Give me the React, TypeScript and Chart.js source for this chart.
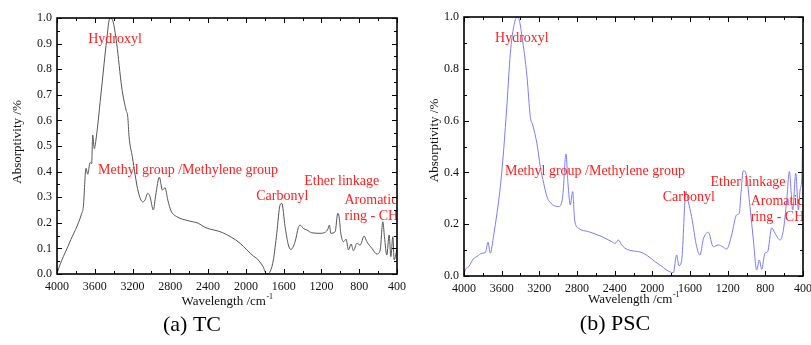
import { useEffect, useRef } from "react";
import { Chart, registerables } from "chart.js";

Chart.register(...registerables);

// FTIR spectrum of TC (wavenumber in cm^-1, absorptivity normalised to 1)
const tcWavenumber = [
  4000, 3993, 3870, 3738, 3721, 3693, 3675, 3650, 3633, 3622, 3605, 3590, 3527, 3474, 3440,
  3410, 3368, 3315, 3269, 3251, 3237, 3202, 3174, 3139, 3092, 3068, 3040, 3015, 2980, 2955,
  2916, 2884, 2856, 2827, 2792, 2732, 2609, 2503, 2432, 2250, 2061, 1990, 1920, 1885, 1820,
  1779, 1740, 1709, 1673, 1638, 1620, 1585, 1550, 1524, 1479, 1444, 1426, 1391, 1355, 1302,
  1214, 1136, 1115, 1101, 1055, 1027, 1013, 995, 967, 939, 914, 886, 861, 825, 790, 748, 719,
  666, 613, 578, 550, 533, 508, 483, 465, 444, 430, 402,
];
const tcAbsorptivity = [
  0.0, 0.01, 0.12, 0.237, 0.263, 0.413, 0.39, 0.435, 0.432, 0.543, 0.49, 0.517, 0.73, 0.914, 1.0,
  0.99, 0.9, 0.73, 0.64, 0.615, 0.536, 0.458, 0.39, 0.32, 0.282, 0.289, 0.315, 0.302, 0.25, 0.308,
  0.378, 0.328, 0.337, 0.289, 0.246, 0.224, 0.208, 0.198, 0.182, 0.162, 0.12, 0.094, 0.07, 0.061, 0.03,
  0.0, 0.012, 0.055, 0.159, 0.27, 0.276, 0.185, 0.113, 0.096, 0.126, 0.182, 0.191, 0.178, 0.172, 0.161,
  0.159, 0.172, 0.191, 0.159, 0.165, 0.237, 0.224, 0.159, 0.126, 0.136, 0.094, 0.117, 0.091, 0.12, 0.113, 0.148, 0.126,
  0.1, 0.078, 0.094, 0.204, 0.146, 0.074, 0.152, 0.068, 0.146, 0.055, 0.094,
];

// FTIR spectrum of PSC
const pscWavenumber = [
  4000, 3993, 3950, 3897, 3862, 3809, 3774, 3745, 3721, 3685, 3650, 3614, 3579, 3543, 3508,
  3472, 3435, 3413, 3384, 3331, 3296, 3270, 3225, 3190, 3154, 3119, 3083, 2995, 2952, 2917,
  2896, 2871, 2846, 2825, 2782, 2676, 2535, 2429, 2396, 2361, 2326, 2290, 2096, 1919, 1777,
  1742, 1717, 1688, 1643, 1618, 1583, 1529, 1494, 1459, 1406, 1353, 1300, 1253, 1211, 1158,
  1105, 1077, 1059, 1034, 998, 963, 927, 892, 864, 839, 804, 775, 733, 697, 644, 608, 573,
  545, 509, 477, 449, 431, 413, 400,
];
const pscAbsorptivity = [
  0.0, 0.017, 0.036, 0.068, 0.075, 0.088, 0.09, 0.13, 0.088, 0.158, 0.242, 0.345, 0.486, 0.667, 0.86,
  0.963, 1.0, 0.988, 0.925, 0.77, 0.615, 0.583, 0.51, 0.422, 0.358, 0.306, 0.283, 0.268, 0.306, 0.471,
  0.358, 0.274, 0.326, 0.216, 0.184, 0.171, 0.152, 0.132, 0.126, 0.139, 0.12, 0.107, 0.088, 0.042, 0.013,
  0.081, 0.04, 0.062, 0.326, 0.287, 0.229, 0.113, 0.081, 0.142, 0.169, 0.113, 0.12, 0.113, 0.104, 0.158,
  0.236, 0.242, 0.319, 0.407, 0.383, 0.268, 0.139, 0.023, 0.062, 0.026, 0.088, 0.094, 0.186, 0.165, 0.139, 0.178, 0.293,
  0.403, 0.255, 0.397, 0.255, 0.332, 0.377, 0.6,
];

// Wavenumber tick labels along the bottom axis
const xTickValues = [4000, 3600, 3200, 2800, 2400, 2000, 1600, 1200, 800, 400];

// Functional-group labels, anchored at (wavenumber, absorptivity)
const bandNames = ["Hydroxyl", "Methyl group /Methylene group", "Carbonyl", "Ether linkage", "Aromatic", "ring - CH"];
const bandWavenumber = [3670, 3565, 1890, 1382, 956, 956];
const bandAbsorptivity = [0.916, 0.405, 0.305, 0.361, 0.288, 0.225];

const SERIF = "'Liberation Serif', 'Times New Roman', Times, serif";

interface PanelSpec {
  wavenumber: number[];
  absorptivity: number[];
  color: string;
  yStep: number;
  caption: string;
  canvasLeft: number;
  canvasWidth: number;
  yAxisWidth: number;
  padTop: number;
  padRight: number;
  xAxisHeight: number;
  yTitleX: number;
  yTitleShift: number;
  xTitleY: number;
  captionX: number;
  captionY: number;
}

const HEIGHT = 345;

const panels: PanelSpec[] = [
  {
    wavenumber: tcWavenumber,
    absorptivity: tcAbsorptivity,
    color: "#555555",
    yStep: 0.1,
    caption: "(a) TC",
    canvasLeft: 0,
    canvasWidth: 420,
    yAxisWidth: 57,
    padTop: 18,
    padRight: 23,
    xAxisHeight: 71,
    yTitleX: 18,
    yTitleShift: -4,
    xTitleY: 302,
    captionX: 192,
    captionY: 325,
  },
  {
    wavenumber: pscWavenumber,
    absorptivity: pscAbsorptivity,
    color: "#7b7bff",
    yStep: 0.2,
    caption: "(b) PSC",
    canvasLeft: 400,
    canvasWidth: 425,
    yAxisWidth: 64,
    padTop: 17,
    padRight: 22,
    xAxisHeight: 69,
    yTitleX: 35,
    yTitleShift: -6,
    xTitleY: 300,
    captionX: 215,
    captionY: 324,
  },
];

function decorations(spec: PanelSpec) {
  return {
    id: "decorations",
    afterDraw(chart: any) {
      const { ctx, chartArea: a, scales } = chart;
      const xs = scales.x;
      const ys = scales.y;
      ctx.save();

      // functional-group labels, clipped to the plot frame
      ctx.save();
      ctx.beginPath();
      ctx.rect(a.left, a.top, a.right - a.left, a.bottom - a.top);
      ctx.clip();
      ctx.fillStyle = "#ff1f1f";
      ctx.font = `14px ${SERIF}`;
      ctx.textAlign = "left";
      ctx.textBaseline = "middle";
      bandNames.forEach((name, i) => {
        ctx.fillText(name, xs.getPixelForValue(bandWavenumber[i]), ys.getPixelForValue(bandAbsorptivity[i]));
      });
      ctx.restore();

      // inward tick marks on all four sides
      ctx.strokeStyle = "#000";
      ctx.lineWidth = 1;
      const seg = (x1: number, y1: number, x2: number, y2: number) => {
        ctx.beginPath();
        ctx.moveTo(x1, y1);
        ctx.lineTo(x2, y2);
        ctx.stroke();
      };
      for (let w = 400; w <= 4000; w += 200) {
        const px = Math.round(xs.getPixelForValue(w)) + 0.5;
        const len = w % 400 === 0 ? 5 : 3;
        seg(px, a.bottom, px, a.bottom - len);
        seg(px, a.top, px, a.top + len);
      }
      const minor = spec.yStep / 2;
      const n = Math.round(1 / minor);
      for (let k = 0; k <= n; k++) {
        const py = Math.round(ys.getPixelForValue(k * minor)) + 0.5;
        const len = k % 2 === 0 ? 5 : 3;
        seg(a.left, py, a.left + len, py);
        seg(a.right, py, a.right - len, py);
      }

      // plot frame
      ctx.lineWidth = 1.6;
      ctx.strokeRect(a.left, a.top, a.right - a.left, a.bottom - a.top);

      // axis titles
      ctx.fillStyle = "#111";
      ctx.font = `13px ${SERIF}`;
      ctx.textBaseline = "middle";
      ctx.textAlign = "center";
      ctx.save();
      ctx.translate(spec.yTitleX, (a.top + a.bottom) / 2 + spec.yTitleShift);
      ctx.rotate(-Math.PI / 2);
      ctx.fillText("Absorptivity /%", 0, 0);
      ctx.restore();

      const main = "Wavelength /cm";
      const sup = "-1";
      ctx.font = `13px ${SERIF}`;
      const mw = ctx.measureText(main).width;
      ctx.font = `8px ${SERIF}`;
      const sw = ctx.measureText(sup).width;
      const x0 = (a.left + a.right) / 2 - (mw + sw) / 2;
      ctx.textAlign = "left";
      ctx.font = `13px ${SERIF}`;
      ctx.fillText(main, x0, spec.xTitleY);
      ctx.font = `8px ${SERIF}`;
      ctx.fillText(sup, x0 + mw + 0.5, spec.xTitleY - 5);

      // panel caption
      ctx.font = `22px ${SERIF}`;
      ctx.textAlign = "center";
      ctx.fillStyle = "#000";
      ctx.fillText(spec.caption, spec.captionX, spec.captionY);

      ctx.restore();
    },
  };
}

function SpectrumPanel({ spec }: { spec: PanelSpec }) {
  const ref = useRef<HTMLCanvasElement | null>(null);

  useEffect(() => {
    if (!ref.current) return;
    const points = spec.wavenumber.map((w, i) => ({ x: w, y: spec.absorptivity[i] }));
    const tickFont = { family: SERIF, size: 12 };
    const chart = new Chart(ref.current, {
      type: "line",
      data: {
        datasets: [
          {
            data: points,
            borderColor: spec.color,
            borderWidth: 1,
            pointRadius: 0,
            fill: false,
            cubicInterpolationMode: "monotone",
          },
        ],
      },
      options: {
        responsive: false,
        animation: false,
        events: [],
        layout: { padding: { left: 0, top: spec.padTop, right: spec.padRight, bottom: 0 } },
        plugins: { legend: { display: false }, tooltip: { enabled: false }, title: { display: false } },
        scales: {
          x: {
            type: "linear",
            reverse: true,
            min: 400,
            max: 4000,
            grid: { display: false, drawTicks: false },
            border: { display: false },
            afterBuildTicks: (s: any) => {
              s.ticks = xTickValues.map((v) => ({ value: v }));
            },
            afterFit: (s: any) => {
              s.height = spec.xAxisHeight;
            },
            ticks: {
              autoSkip: false,
              maxRotation: 0,
              padding: 6,
              color: "#111",
              font: tickFont,
              callback: (v: any) => String(v),
            },
          },
          y: {
            type: "linear",
            min: 0,
            max: 1,
            grid: { display: false, drawTicks: false },
            border: { display: false },
            afterFit: (s: any) => {
              s.width = spec.yAxisWidth;
            },
            ticks: {
              stepSize: spec.yStep,
              padding: 5,
              color: "#111",
              font: tickFont,
              callback: (v: any) => Number(v).toFixed(1),
            },
          },
        },
      },
      plugins: [decorations(spec)],
    } as any);
    return () => chart.destroy();
  }, [spec]);

  return (
    <canvas
      ref={ref}
      width={spec.canvasWidth}
      height={HEIGHT}
      style={{
        position: "absolute",
        left: spec.canvasLeft,
        top: 0,
        width: spec.canvasWidth,
        height: HEIGHT,
      }}
    />
  );
}

export default function App() {
  return (
    <div
      style={{
        position: "absolute",
        left: 0,
        top: 0,
        width: 811,
        height: HEIGHT,
        overflow: "hidden",
        background: "#fff",
      }}
    >
      {panels.map((p) => (
        <SpectrumPanel key={p.caption} spec={p} />
      ))}
    </div>
  );
}
